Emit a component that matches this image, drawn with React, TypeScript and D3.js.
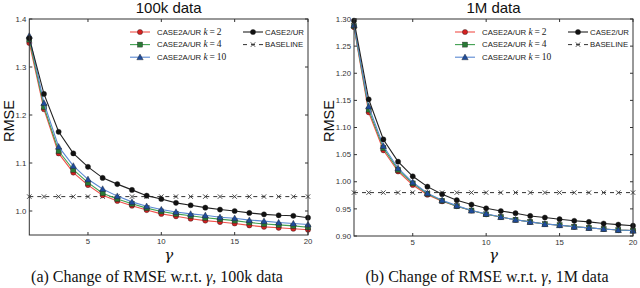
import React from "react";
import * as d3 from "d3";

const gammas = d3.range(1, 21);

// 100k data
const k2_100k = [1.35, 1.212, 1.12, 1.08, 1.054, 1.033, 1.021, 1.011, 1.002, 0.994, 0.989, 0.984, 0.98, 0.977, 0.974, 0.97, 0.967, 0.965, 0.963, 0.961];
const k4_100k = [1.357, 1.217, 1.125, 1.086, 1.059, 1.037, 1.025, 1.015, 1.006, 0.999, 0.994, 0.99, 0.986, 0.983, 0.98, 0.976, 0.973, 0.971, 0.969, 0.966];
const k10_100k = [1.365, 1.225, 1.134, 1.094, 1.066, 1.046, 1.031, 1.019, 1.01, 1.003, 0.998, 0.994, 0.991, 0.987, 0.985, 0.981, 0.979, 0.976, 0.974, 0.972];
const case2_100k = [1.36, 1.244, 1.165, 1.12, 1.092, 1.069, 1.056, 1.044, 1.032, 1.025, 1.017, 1.012, 1.007, 1.003, 1.0, 0.996, 0.993, 0.991, 0.99, 0.986];
const baseline_100k = 1.03;

// 1M data
const k2_1m = [1.285, 1.128, 1.058, 1.019, 0.994, 0.976, 0.964, 0.955, 0.947, 0.94, 0.935, 0.93, 0.926, 0.922, 0.92, 0.917, 0.915, 0.913, 0.911, 0.91];
const k4_1m = [1.287, 1.133, 1.062, 1.022, 0.997, 0.978, 0.965, 0.955, 0.947, 0.94, 0.935, 0.93, 0.926, 0.922, 0.92, 0.917, 0.915, 0.913, 0.911, 0.91];
const k10_1m = [1.289, 1.139, 1.066, 1.025, 0.999, 0.979, 0.966, 0.956, 0.947, 0.941, 0.935, 0.93, 0.926, 0.922, 0.92, 0.917, 0.915, 0.913, 0.911, 0.91];
const case2_1m = [1.297, 1.152, 1.078, 1.037, 1.01, 0.991, 0.977, 0.966, 0.958, 0.951, 0.946, 0.942, 0.937, 0.934, 0.931, 0.928, 0.926, 0.923, 0.921, 0.919];
const baseline_1m = 0.98;

const xTicks = [5, 10, 15, 20];
const yTicks100k = [1.0, 1.1, 1.2, 1.3, 1.4];
const yTicks1m = [0.9, 0.95, 1.0, 1.05, 1.1, 1.15, 1.2, 1.25, 1.3];

type Series = { name: string; k?: string; values: number[]; line: string; mark: string; shape: string };

const legendLeft = [
  { k: "2", line: "#f0504a", mark: "#d42020", shape: "circle" },
  { k: "4", line: "#40a050", mark: "#2a7a36", shape: "square" },
  { k: "10", line: "#5a88d2", mark: "#1f4c9c", shape: "triangle" },
];

function Marker({ shape, x, y, color }: { shape: string; x: number; y: number; color: string }) {
  if (shape === "circle") return <circle cx={x} cy={y} r={2.6} fill={color} stroke="#222" strokeWidth={0.4} />;
  if (shape === "square") return <rect x={x - 2.5} y={y - 2.5} width={5} height={5} fill={color} stroke="#222" strokeWidth={0.4} />;
  if (shape === "triangle") {
    const s = 3.2;
    return <path d={`M${x},${y - s}L${x + s},${y + s * 0.8}L${x - s},${y + s * 0.8}Z`} fill={color} stroke="#222" strokeWidth={0.4} />;
  }
  if (shape === "x") {
    const s = 2.2;
    return <path d={`M${x - s},${y - s}L${x + s},${y + s}M${x - s},${y + s}L${x + s},${y - s}`} stroke="#333" strokeWidth={0.9} />;
  }
  return null;
}

function Panel({
  x0, x1, y0, y1, yDomain, yTicks, yFmt, series, baseline, title, legendX, legend2X, caption, captionX, rmseX,
}: any) {
  const xs = d3.scaleLinear().domain([1, 20]).range([x0, x1]);
  const ys = d3.scaleLinear().domain(yDomain).range([y1, y0]);
  const line = d3.line<number>().x((_, i) => xs(gammas[i])).y((d) => ys(d));
  const tickFont = { fontFamily: "Liberation Sans, Arial, sans-serif", fontSize: 7.8, fill: "#333" };
  const cx = (x0 + x1) / 2;
  return (
    <g>
      <text x={cx} y={13} textAnchor="middle" fontFamily="Liberation Sans, Arial, sans-serif" fontSize={15} fill="#111">{title}</text>
      <text transform={`translate(${rmseX},121) rotate(-90)`} textAnchor="middle" fontFamily="Liberation Sans, Arial, sans-serif" fontSize={14.5} fill="#111">RMSE</text>
      {/* baseline */}
      <line x1={x0} x2={x1} y1={ys(baseline)} y2={ys(baseline)} stroke="#333" strokeWidth={1} strokeDasharray="4,4" />
      {gammas.map((g) => <Marker key={"b" + g} shape="x" x={xs(g)} y={ys(baseline)} color="#333" />)}
      {series.map((s: Series, si: number) => (
        <g key={si}>
          <path d={line(s.values) || ""} fill="none" stroke={s.line} strokeWidth={1.1} />
          {s.values.map((v, i) => <Marker key={i} shape={s.shape} x={xs(gammas[i])} y={ys(v)} color={s.mark} />)}
        </g>
      ))}
      {/* frame */}
      <rect x={x0} y={y0} width={x1 - x0} height={y1 - y0} fill="none" stroke="#333" strokeWidth={1} />
      {xTicks.map((t) => (
        <g key={"xt" + t}>
          <line x1={xs(t)} x2={xs(t)} y1={y1} y2={y1 - 3} stroke="#333" />
          <line x1={xs(t)} x2={xs(t)} y1={y0} y2={y0 + 3} stroke="#333" />
          <text x={xs(t)} y={y1 + 8.5} textAnchor="middle" {...tickFont}>{t}</text>
        </g>
      ))}
      {yTicks.map((t: number) => (
        <g key={"yt" + t}>
          <line x1={x0} x2={x0 + 3} y1={ys(t)} y2={ys(t)} stroke="#333" />
          <line x1={x1} x2={x1 - 3} y1={ys(t)} y2={ys(t)} stroke="#333" />
          <text x={x0 - 3} y={ys(t) + 2.7} textAnchor="end" {...tickFont}>{yFmt(t)}</text>
        </g>
      ))}
      {/* legend */}
      {legendLeft.map((l, i) => {
        const ly = 32 + i * 12.6;
        return (
          <g key={"lg" + i}>
            <line x1={legendX} x2={legendX + 20} y1={ly} y2={ly} stroke={l.line} strokeWidth={1.1} />
            <Marker shape={l.shape} x={legendX + 10} y={ly} color={l.mark} />
            <text x={legendX + 27} y={ly + 2.7} fontFamily="Liberation Sans, Arial, sans-serif" fontSize={7.8} fill="#222">
              CASE2A/UR <tspan fontFamily="Liberation Serif, serif" fontStyle="italic" fontSize={9.5}>k</tspan>
              <tspan fontFamily="Liberation Serif, serif" fontSize={9.5}>{"\u2009=\u2009" + l.k}</tspan>
            </text>
          </g>
        );
      })}
      <g>
        <line x1={legend2X} x2={legend2X + 20} y1={32} y2={32} stroke="#222" strokeWidth={1.1} />
        <Marker shape="circle" x={legend2X + 10} y={32} color="#111" />
        <text x={legend2X + 22} y={34.7} fontFamily="Liberation Sans, Arial, sans-serif" fontSize={7.8} fill="#222">CASE2/UR</text>
        <line x1={legend2X} x2={legend2X + 20} y1={44.6} y2={44.6} stroke="#333" strokeWidth={1} strokeDasharray="4,4" />
        <Marker shape="x" x={legend2X + 10} y={44.6} color="#333" />
        <text x={legend2X + 22} y={47.3} fontFamily="Liberation Sans, Arial, sans-serif" fontSize={7.8} fill="#222">BASELINE</text>
      </g>
      <text x={(x0 + x1) / 2} y={259.5} textAnchor="middle" fontFamily="DejaVu Serif, serif" fontStyle="italic" fontSize={15} fill="#111">γ</text>
      <text x={captionX} y={282} textAnchor="middle" fontFamily="Liberation Serif, serif" fontSize={16} fill="#111">
        {caption[0]}<tspan fontStyle="italic">γ</tspan>{caption[1]}
      </text>
    </g>
  );
}

export default function App() {
  const s100k: Series[] = [
    { name: "k2", values: k2_100k, line: "#f0504a", mark: "#d42020", shape: "circle" },
    { name: "k4", values: k4_100k, line: "#40a050", mark: "#2a7a36", shape: "square" },
    { name: "k10", values: k10_100k, line: "#5a88d2", mark: "#1f4c9c", shape: "triangle" },
    { name: "c2", values: case2_100k, line: "#222", mark: "#111", shape: "circle" },
  ];
  const s1m: Series[] = [
    { name: "k2", values: k2_1m, line: "#f0504a", mark: "#d42020", shape: "circle" },
    { name: "k4", values: k4_1m, line: "#40a050", mark: "#2a7a36", shape: "square" },
    { name: "k10", values: k10_1m, line: "#5a88d2", mark: "#1f4c9c", shape: "triangle" },
    { name: "c2", values: case2_1m, line: "#222", mark: "#111", shape: "circle" },
  ];
  return (
    <svg width={640} height={288} style={{ position: "absolute", left: 0, top: 0, background: "#fff" }}>
      <rect width={640} height={288} fill="#fff" />
      <Panel x0={29.3} x1={308} y0={19} y1={235} yDomain={[0.95, 1.4]} yTicks={yTicks100k}
        yFmt={(t: number) => d3.format(".1f")(t)} series={s100k} baseline={baseline_100k}
        title="100k data" legendX={130} legend2X={243} caption={["(a)  Change of RMSE w.r.t. ", ", 100k data"]} captionX={157} rmseX={13.5} />
      <Panel x0={354} x1={633} y0={19} y1={236} yDomain={[0.9, 1.3]} yTicks={yTicks1m}
        yFmt={(t: number) => d3.format(".2f")(t)} series={s1m} baseline={baseline_1m}
        title="1M data" legendX={455} legend2X={568} caption={["(b)  Change of RMSE w.r.t. ", ", 1M data"]} captionX={487} rmseX={333.5} />
    </svg>
  );
}
